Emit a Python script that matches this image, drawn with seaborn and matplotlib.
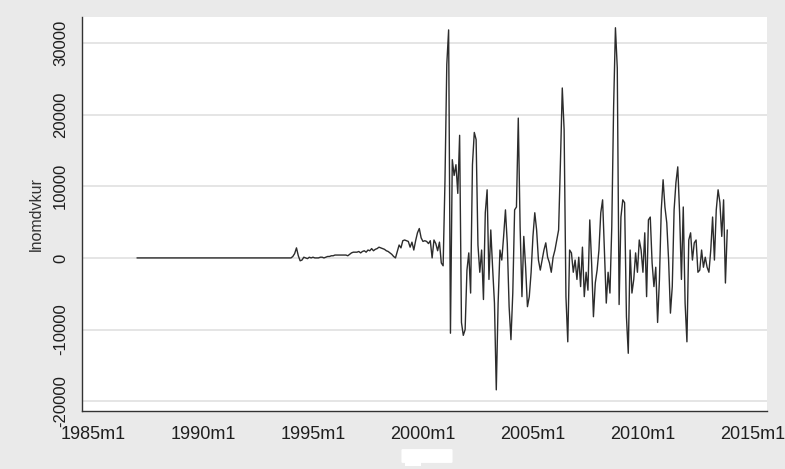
import numpy as np
import pandas as pd
import matplotlib
matplotlib.use("Agg")
import matplotlib.pyplot as plt
import matplotlib.patches as mpatches
import seaborn as sns

# ---------------- data (monthly) ----------------
start_year = 1987  # series starts 1987m1

vals_1987_1993 = [
    0, 0, 0, 0, 0, 0, 0, 0, 0, 0, 0, 0,
    0, 0, 0, 0, 0, 0, 0, 0, 0, 0, 0, 0,
    0, 0, 0, 0, 0, 0, 0, 0, 0, 0, 0, 0,
    0, 0, 0, 0, 0, 0, 0, 0, 0, 0, 0, 0,
    0, 0, 0, 0, 0, 0, 0, 0, 0, 0, 0, 0,
    0, 0, 0, 0, 0, 0, 0, 0, 0, 0, 0, 0,
    0, 0, 0, 0, 0, 0, 0, 0, 0, 0, 0, 0,
]
vals_1994_2000 = [
    0, 200, 600, 1400, 300, -400, -300, 100, 0, -100, 100, 0,
    100, 0, 0, 0, 100, 100, 0, 100, 200, 200, 300, 300,
    400, 400, 400, 400, 400, 400, 400, 300, 500, 700, 800, 800,
    800, 900, 700, 900, 1000, 800, 1100, 1000, 1300, 1000, 1200, 1300,
    1500, 1400, 1300, 1200, 1000, 900, 700, 500, 200, 0, 900, 1800,
    1400, 2400, 2500, 2400, 2300, 1500, 2200, 1100, 2400, 3500, 4100, 2800,
    2300, 2400, 2300, 2000, 2400, 0, 2500, 2000, 1000, 2200, -700, -1100,
]
vals_2001_2013 = [
    10600, 27000, 31800, -10500, 13700, 11500, 13000, 9000, 17100, -9000, -10800, -10000,
    -1700, 700, -4900, 13000, 17500, 16500, 1800, -2000, 1100, -5800, 6300, 9500,
    -3000, 3900, -1400, -6300, -18400, -6300, 1100, -300, 3000, 6700, 2000, -6800,
    -11400, -4900, 6700, 7100, 19500, 4300, -5400, 3000, -1300, -6800, -5400, -2000,
    3000, 6300, 3900, -300, -1700, -300, 1100, 2100, 100, -700, -2000, 100,
    1100, 2500, 3900, 13400, 23700, 17900, -5400, -11700, 1100, 700, -2000, -300,
    -3000, 100, -4000, 1500, -5400, -2000, -4500, 5300, -700, -8200, -3500, -1700,
    1100, 6300, 8100, 700, -6300, -2000, -4900, 4300, 21000, 32100, 26500, -6500,
    5700, 8100, 7700, -8200, -13300, 1100, -4900, -3000, 700, -2000, 2500, 1100,
    -2000, 3500, -5400, 5300, 5700, -700, -4000, -1300, -9000, -3000, 6700, 10900,
    7100, 4900, -300, -7700, -4000, 6700, 10500, 12700, 6300, -3000, 7100, -6300,
    -11700, 2500, 3500, -300, 2100, 2500, -2000, -1700, 1100, -1300, 100, -1300,
    -2000, 1100, 5700, -300, 6700, 9500, 7700, 3000, 8100, -3500, 3900,
]

x_tick_years = [1985, 1990, 1995, 2000, 2005, 2010, 2015]
x_tick_labels = ["1985m1", "1990m1", "1995m1", "2000m1", "2005m1", "2010m1", "2015m1"]
y_ticks = [-20000, -10000, 0, 10000, 20000, 30000]
y_tick_labels = ["-20000", "-10000", "0", "10000", "20000", "30000"]
y_label = "lnomdvkur"

values = vals_1987_1993 + vals_1994_2000 + vals_2001_2013
dates = start_year + np.arange(len(values)) / 12.0
df = pd.DataFrame({"date": dates, y_label: values})

# ---------------- plot ----------------
sns.set_theme(style="white")
plt.rcParams["font.family"] = ["Liberation Sans", "DejaVu Sans"]

W, H = 785, 469
fig = plt.figure(figsize=(W / 100, H / 100), dpi=100, facecolor="#EAEAEA")
ax = fig.add_axes([82 / W, 1 - 411 / H, (767 - 82) / W, (411 - 17) / H])
ax.set_facecolor("white")

for yt in y_ticks:
    ax.axhline(yt, color="#E3E3E3", lw=1.3, zorder=0)

sns.lineplot(data=df, x="date", y=y_label, ax=ax, color="#2c2c2c",
             linewidth=1.0, zorder=3)

ax.set_xlim(1984.5, 2015.64)
ax.set_ylim(-21350, 33600)

ax.set_xticks(x_tick_years)
ax.set_xticklabels(x_tick_labels, fontsize=13, color="#1e1e1e")
ax.set_yticks(y_ticks)
ax.set_yticklabels(y_tick_labels, fontsize=12, color="#1e1e1e",
                   rotation=90, va="center")
ax.tick_params(axis="both", direction="out", length=6, width=1.0,
               color="#333333", pad=5)
ax.tick_params(axis="y", pad=4)

ax.set_xlabel("")
ax.set_ylabel(y_label, fontsize=11.5, color="#333333")
ax.yaxis.set_label_coords((44 - 82) / 685, 0.5)

for side in ["top", "right"]:
    ax.spines[side].set_visible(False)
for side in ["left", "bottom"]:
    ax.spines[side].set_color("#333333")
    ax.spines[side].set_linewidth(1.0)

# white mask patch below the x axis (as in the reference)
fig.add_artist(mpatches.FancyBboxPatch((403 / W, 1 - 462 / H), 48 / W, 12 / H,
               boxstyle="round,pad=0.002", transform=fig.transFigure,
               fc="white", ec="none"))
fig.add_artist(mpatches.Rectangle((405 / W, 1 - 466 / H), 16 / W, 6 / H,
               transform=fig.transFigure, fc="white", ec="none"))

fig.savefig("out.png", dpi=100, facecolor=fig.get_facecolor())
